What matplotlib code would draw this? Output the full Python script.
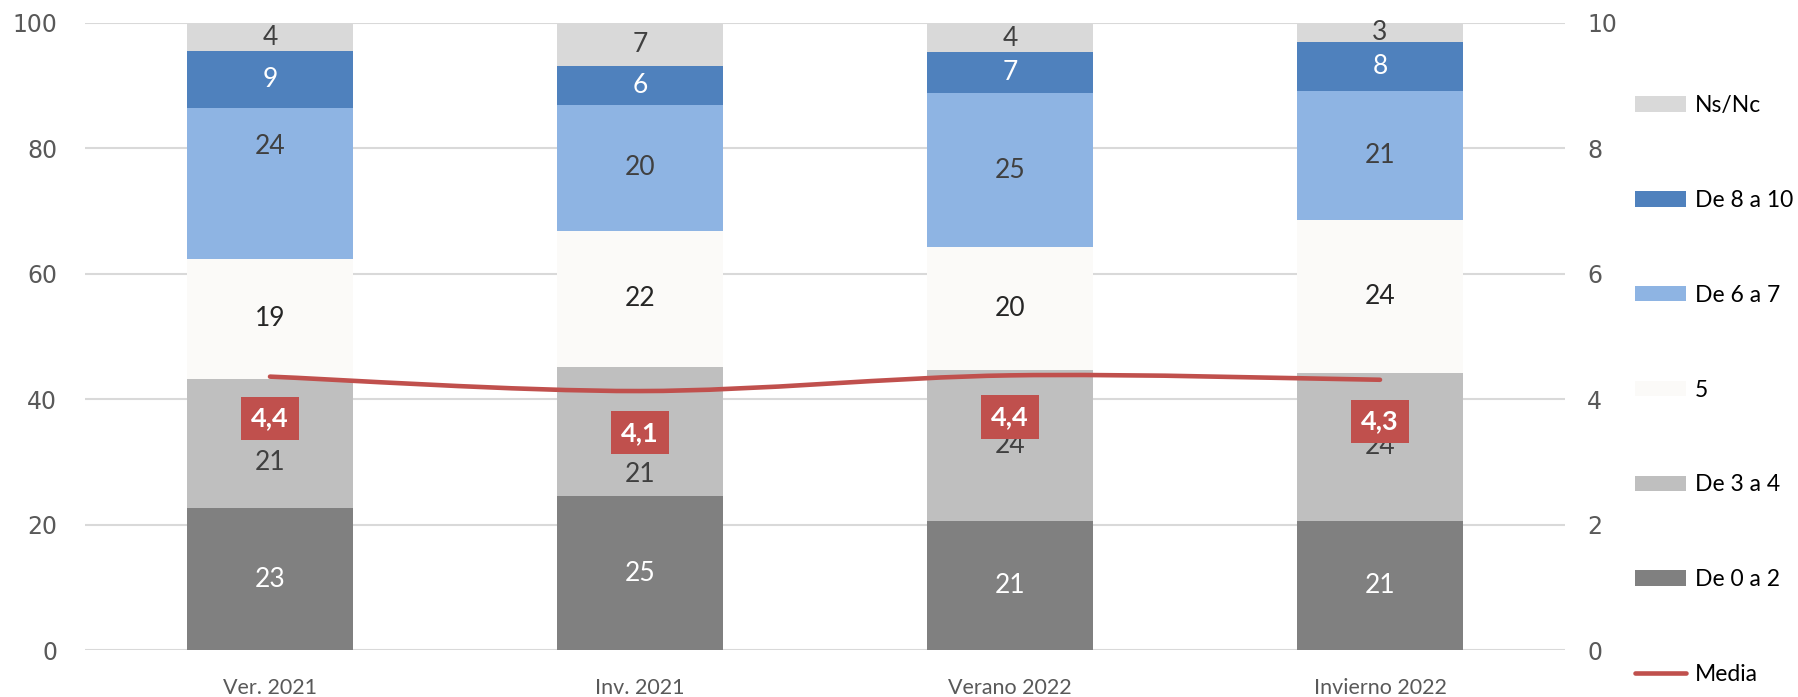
import matplotlib
matplotlib.use("Agg")
import matplotlib.pyplot as plt
from matplotlib.path import Path
from matplotlib.patches import PathPatch, Patch
from matplotlib.lines import Line2D
import numpy as np

categories = ["Ver. 2021", "Inv. 2021", "Verano 2022", "Invierno 2022"]
series_names = ["De 0 a 2", "De 3 a 4", "5", "De 6 a 7", "De 8 a 10", "Ns/Nc"]
de_0_a_2 = [22.6, 24.5, 20.6, 20.6]
de_3_a_4 = [20.7, 20.7, 24.0, 23.6]
cinco = [19.0, 21.7, 19.6, 24.4]
de_6_a_7 = [24.2, 20.0, 24.6, 20.6]
de_8_a_10 = [9.0, 6.2, 6.6, 7.7]
ns_nc = [4.5, 6.9, 4.4, 3.1]
labels_0_2 = ["23", "25", "21", "21"]
labels_3_4 = ["21", "21", "24", "24"]
labels_5 = ["19", "22", "20", "24"]
labels_6_7 = ["24", "20", "25", "21"]
labels_8_10 = ["9", "6", "7", "8"]
labels_ns = ["4", "7", "4", "3"]
media = [4.36, 4.13, 4.38, 4.31]
media_labels = ["4,4", "4,1", "4,4", "4,3"]

series = [de_0_a_2, de_3_a_4, cinco, de_6_a_7, de_8_a_10, ns_nc]
series_labels = [labels_0_2, labels_3_4, labels_5, labels_6_7, labels_8_10, labels_ns]
colors = ["#808080", "#BFBFBF", "#FBFAF8", "#8EB4E3", "#4F81BD", "#D9D9D9"]
text_colors = ["#FFFFFF", "#404040", "#262626", "#404040", "#FFFFFF", "#404040"]
# manual label shifts (in axis units) as in the original: (series index, category index) -> dy
label_shift = {(3, 0): 5.9, (1, 0): -3.0, (1, 1): -6.9}

W, H = 1799, 697
fig = plt.figure(figsize=(W / 100, H / 100), dpi=100)
ax = fig.add_axes([85 / W, 1 - 650 / H, (1565 - 85) / W, (650 - 23) / H])
ax2 = ax.twinx()

x = np.arange(len(categories))
bw = 0.446
bottom = np.zeros(len(categories))
for si, (vals, labs) in enumerate(zip(series, series_labels)):
    vals = np.array(vals)
    ax.bar(x, vals, bw, bottom=bottom, color=colors[si], zorder=2, linewidth=0)
    for ci in range(len(categories)):
        yc = bottom[ci] + vals[ci] / 2 + label_shift.get((si, ci), 0)
        ax.text(x[ci], yc, labs[ci], ha="center", va="center",
                fontsize=19, family="Lato", color=text_colors[si], zorder=3)
    bottom += vals

ax.set_xlim(-0.5, len(categories) - 0.5)
ax.set_ylim(0, 100)
ax.set_yticks(np.arange(0, 101, 20))
ax.grid(axis="y", color="#D9D9D9", linewidth=1.5, zorder=0)
ax.set_axisbelow(True)
for s in ax.spines.values():
    s.set_visible(False)
for s in ax2.spines.values():
    s.set_visible(False)
ax.tick_params(axis="y", length=0, pad=20, labelsize=17, labelcolor="#595959")
ax.tick_params(axis="x", length=0, pad=20, labelsize=15.5, labelcolor="#595959")
ax.set_xticks(x)
ax.set_xticklabels(categories, family="Lato")
for t in ax.get_yticklabels():
    t.set_family("DejaVu Sans")

ax2.set_ylim(0, 10)
ax2.set_yticks(np.arange(0, 11, 2))
ax2.tick_params(axis="y", length=0, pad=16, labelsize=17, labelcolor="#595959")
for t in ax2.get_yticklabels():
    t.set_family("DejaVu Sans")

# smooth (Catmull-Rom style) mean line
pts = np.column_stack([x, media]).astype(float)
ext = np.vstack([pts[0], pts, pts[-1]])
verts = [tuple(pts[0])]
codes = [Path.MOVETO]
for i in range(len(pts) - 1):
    p0, p1, p2, p3 = ext[i], ext[i + 1], ext[i + 2], ext[i + 3]
    c1 = p1 + (p2 - p0) / 6
    c2 = p2 - (p3 - p1) / 6
    verts += [tuple(c1), tuple(c2), tuple(p2)]
    codes += [Path.CURVE4] * 3
ax2.add_patch(PathPatch(Path(verts, codes), facecolor="none", edgecolor="#C0504D",
                        linewidth=3.3, capstyle="round", zorder=4))

for ci in range(len(categories)):
    ax2.annotate(media_labels[ci], (x[ci], media[ci]), xytext=(0, -30),
                 textcoords="offset points", ha="center", va="center",
                 fontsize=19.5, family="Lato", fontweight="bold", color="white",
                 bbox=dict(boxstyle="square,pad=0.36", facecolor="#C0504D", edgecolor="none"),
                 zorder=5)

handles = [Patch(facecolor=colors[i], edgecolor="none") for i in range(5, -1, -1)]
names = [series_names[i] for i in range(5, -1, -1)]
handles.append(Line2D([0], [0], color="#C0504D", linewidth=3.3, solid_capstyle="round"))
names.append("Media")
fig.legend(handles, names, loc="upper left", bbox_to_anchor=(1626 / W, 1 - 86 / H),
           frameon=False, prop={"family": "Lato", "size": 16.5}, handlelength=2.2,
           handleheight=0.65, labelspacing=3.22, handletextpad=0.4, borderaxespad=0)

fig.savefig("out.png", dpi=100)
